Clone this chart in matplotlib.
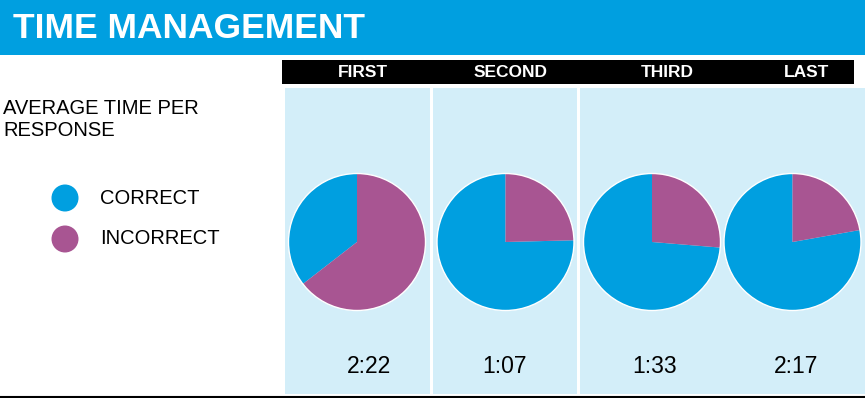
import matplotlib
matplotlib.use("Agg")
import matplotlib.pyplot as plt
from matplotlib.patches import Rectangle, Circle

# data
rounds = ["FIRST", "SECOND", "THIRD", "LAST"]
correct = [35.5, 75.4, 73.7, 77.8]
incorrect = [64.5, 24.6, 26.3, 22.2]
avg_times = ["2:22", "1:07", "1:33", "2:17"]
legend_labels = ["CORRECT", "INCORRECT"]

BLUE = "#009FE0"
PURPLE = "#A85592"
PANEL = "#D3EEF9"
colors = [BLUE, PURPLE]

plt.rcParams["font.family"] = ["Liberation Sans", "DejaVu Sans"]

W, H = 865, 398
fig = plt.figure(figsize=(W / 100, H / 100), dpi=100)

# background layer in pixel coordinates (y down)
bg = fig.add_axes([0, 0, 1, 1])
bg.set_xlim(0, W)
bg.set_ylim(H, 0)
bg.axis("off")

# title band
bg.add_patch(Rectangle((0, 0), W, 55, color=BLUE, lw=0))
bg.text(13, 38, "TIME MANAGEMENT", color="white", fontsize=25.5,
        fontweight="bold", va="baseline")

# column header bar
bg.add_patch(Rectangle((282, 60), 572, 24, color="black", lw=0))
label_x = [363, 511, 667, 807]
for x, lab in zip(label_x, rounds):
    bg.text(x, 72.5, lab, color="white", fontsize=12.5, fontweight="bold",
            ha="center", va="center")

# light blue panels
for x0, x1 in [(285, 430), (433, 577), (580, 865)]:
    bg.add_patch(Rectangle((x0, 88), x1 - x0, 306, color=PANEL, lw=0))

# bottom rule
bg.plot([0, W], [396.5, 396.5], color="black", lw=1.5)

# left side text + legend
bg.text(3, 98.5, "AVERAGE TIME PER\nRESPONSE", fontsize=14.5, va="top",
        linespacing=1.22)
legend_y = [198, 239]
for y, lab, col in zip(legend_y, legend_labels, colors):
    bg.add_patch(Circle((65, y), 13.5, color=col, lw=0))
    bg.text(100, y + 5.5, lab, fontsize=14.5, va="baseline")

# pies
pie_x = [357, 505.5, 652, 792.5]
pie_y = 242
R = 68.5
pad = 2
for cx, c, i in zip(pie_x, correct, incorrect):
    ax = fig.add_axes([(cx - R - pad) / W, 1 - (pie_y + R + pad) / H,
                       2 * (R + pad) / W, 2 * (R + pad) / H])
    ax.pie([c, i], colors=colors, startangle=90, counterclock=True,
           wedgeprops=dict(linewidth=0))
    ax.add_patch(Circle((0, 0), 1, fill=False, ec="white", lw=1))
    lim = (R + pad) / R
    ax.set_xlim(-lim, lim)
    ax.set_ylim(-lim, lim)
    ax.set_aspect("equal")
    ax.axis("off")

time_x = [369, 505, 655, 796]
for x, t in zip(time_x, avg_times):
    bg.text(x, 373, t, fontsize=16.5, ha="center", va="baseline")

fig.savefig("out.png", dpi=100)
